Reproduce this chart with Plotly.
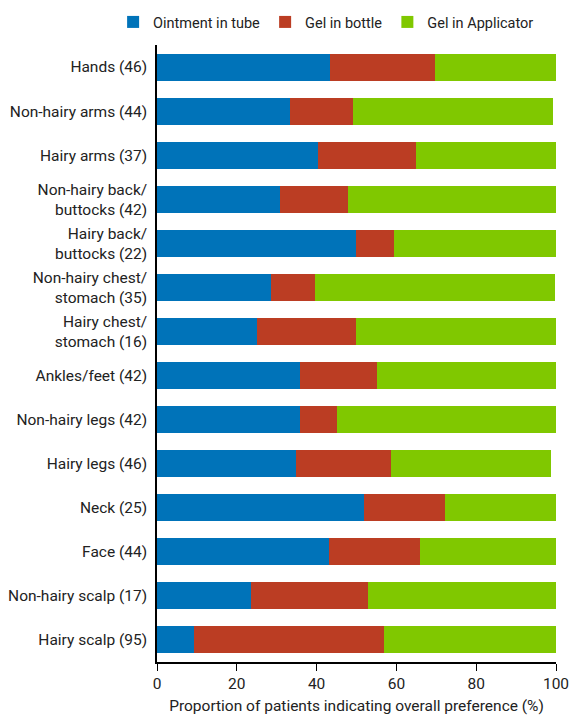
import plotly.graph_objects as go

categories = [
    "Hands (46)", "Non-hairy arms (44)", "Hairy arms (37)",
    "Non-hairy back/<br>buttocks (42)", "Hairy back/<br>buttocks (22)",
    "Non-hairy chest/<br>stomach (35)", "Hairy chest/<br>stomach (16)",
    "Ankles/feet (42)", "Non-hairy legs (42)", "Hairy legs (46)",
    "Neck (25)", "Face (44)", "Non-hairy scalp (17)", "Hairy scalp (95)",
]
ointment_tube = [43.4, 33.4, 40.3, 30.9, 49.8, 28.6, 25.0, 35.8, 35.8, 34.8, 51.8, 43.2, 23.6, 9.3]
gel_bottle = [26.2, 15.7, 24.5, 16.9, 9.5, 11.0, 24.8, 19.3, 9.4, 23.8, 20.4, 22.7, 29.3, 47.5]
gel_applicator = [30.4, 50.2, 35.2, 52.2, 40.7, 60.1, 50.2, 44.9, 54.8, 40.1, 27.8, 34.1, 47.1, 43.2]
series_names = ["Ointment in tube", "Gel in bottle", "Gel in Applicator"]
colors = ["rgb(0,115,185)", "rgb(187,61,35)", "rgb(128,200,0)"]

font_family = "Roboto, 'Liberation Sans', sans-serif"

W, H = 571, 718

fig = go.Figure()
for name, vals, col in zip(series_names, [ointment_tube, gel_bottle, gel_applicator], colors):
    fig.add_trace(go.Bar(
        y=categories, x=vals, name=name, orientation="h",
        marker=dict(color=col, line=dict(width=0)),
    ))

fig.update_layout(
    barmode="stack",
    bargap=0.386,
    width=W, height=H,
    margin=dict(l=157, r=15, t=45, b=56, autoexpand=False),
    plot_bgcolor="white", paper_bgcolor="white",
    font=dict(family=font_family, size=15.5, color="#222"),
    legend=dict(orientation="h", x=-0.11, xanchor="left",
                y=1 + 23 / 617, yanchor="middle",
                font=dict(size=14.5), traceorder="normal", itemwidth=30,
                tracegroupgap=0, bgcolor="rgba(0,0,0,0)"),
    xaxis=dict(range=[0, 100], tickvals=[0, 20, 40, 60, 80, 100],
               ticks="outside", ticklen=7, tickcolor="black",
               showline=True, linecolor="black", linewidth=1.5,
               showgrid=False, zeroline=False, automargin=False,
               title=dict(text="Proportion of patients indicating overall preference (%)",
                          font=dict(size=15.5), standoff=8),
               tickfont=dict(size=15.5)),
    yaxis=dict(autorange="reversed", showline=True, linecolor="black", linewidth=1.5,
               showgrid=False, ticks="", ticklabelstandoff=5, automargin=False,
               tickfont=dict(size=15.5)),
)

fig.write_html(
    "out.html",
    config={"displayModeBar": False},
    post_script="document.body.style.margin='0';document.body.style.overflow='hidden';",
)
